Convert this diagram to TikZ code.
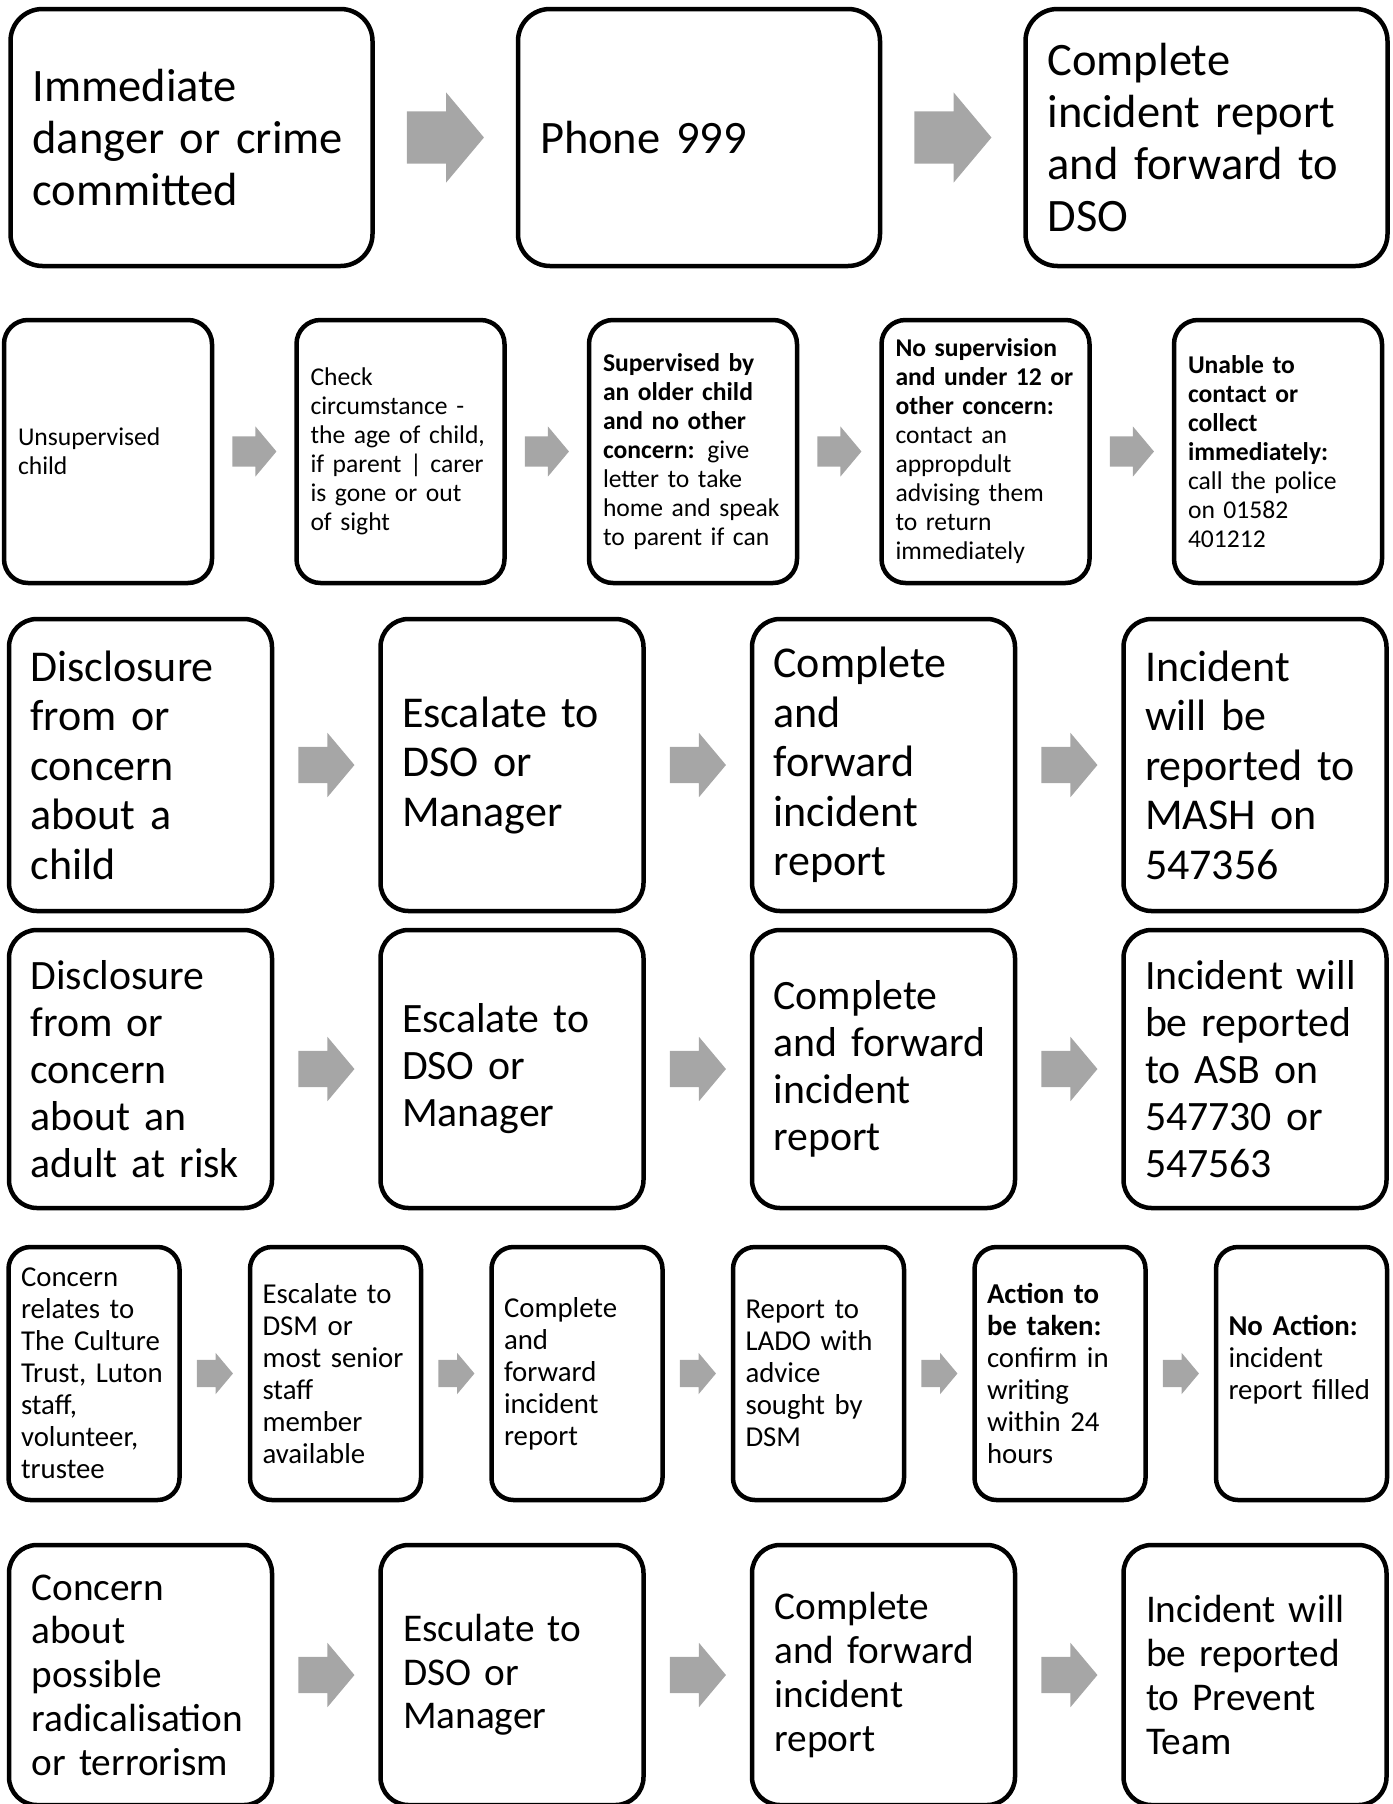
\documentclass[tikz,border=0pt]{standalone}
\usepackage{fontspec}
\setmainfont{Carlito}
\usepackage{tikz}
\usetikzlibrary{positioning,shapes.arrows}
\definecolor{arrowgray}{RGB}{166,166,166}

\begin{document}
\begin{tikzpicture}[
  x=1pt, y=-1pt,
  box/.style={rectangle, draw, line width=4.5pt, rounded corners=28pt, align=left, inner sep=0pt},
  rowA/.style={box, rounded corners=32pt, minimum width=362pt, minimum height=257pt, text width=318pt, font=\fontsize{46.5}{52}\selectfont},
  rowB/.style={box, rounded corners=24pt, minimum width=208pt, minimum height=263pt, text width=180pt, font=\fontsize{25.6}{29}\selectfont},
  rowC/.style={box, minimum width=263pt, minimum height=292pt, text width=220pt, font=\fontsize{44}{49.5}\selectfont},
  rowD/.style={box, minimum width=263pt, minimum height=278pt, text width=220pt, font=\fontsize{41.8}{47}\selectfont},
  rowE/.style={box, rounded corners=22pt, minimum width=171pt, minimum height=253pt, text width=146pt, font=\fontsize{28.8}{32}\selectfont},
  rowF/.style={box, minimum width=263pt, minimum height=260pt, text width=218pt, font=\fontsize{39.3}{43.7}\selectfont},
  blk/.style={single arrow, fill=arrowgray, inner sep=0pt, single arrow tip angle=100, anchor=tail},
  blkA/.style={blk, minimum height=77pt, text height=26pt, text depth=26pt, single arrow head extend=19pt, xshift=-38.5pt},
  blkB/.style={blk, minimum height=44pt, text height=15pt, text depth=15pt, single arrow head extend=10pt, xshift=-22pt},
  blkC/.style={blk, minimum height=56pt, text height=18pt, text depth=18pt, single arrow head extend=14pt, xshift=-28pt},
  blkE/.style={blk, minimum height=36pt, text height=13.5pt, text depth=13.5pt, single arrow head extend=7pt, xshift=-18pt}
]
\useasboundingbox (0,0) rectangle (1392,1804);

% immediate danger
\node[rowA] (im) at (191.5,137.5) {Immediate\\danger or crime\\committed};
\node[rowA, right=141pt of im] (ph) {Phone 999};
\node[rowA, right=141pt of ph] (cr) {Complete\\incident report\\and forward to\\DSO};

\path (im) -- node[blkA] (a1) {} (ph);
\path (ph) -- node[blkA] (a2) {} (cr);

% unsupervised child
\node[rowB] (un) at (108,451.5) {Unsupervised\\child};
\node[rowB, right=80pt of un] (ck) {Check\\circumstance -\\the age of child,\\if parent | carer\\is gone or out\\of sight};
\node[rowB, right=80pt of ck] (sv) {\textbf{Supervised by}\\\textbf{an older child}\\\textbf{and no other}\\\textbf{concern:} give\\letter to take\\home and speak\\to parent if can};
\node[rowB, right=80pt of sv] (ns) {\textbf{No supervision}\\\textbf{and under 12 or}\\\textbf{other concern:}\\contact an\\appropdult\\advising them\\to return\\immediately};
\node[rowB, right=80pt of ns] (uc) {\textbf{Unable to}\\\textbf{contact or}\\\textbf{collect}\\\textbf{immediately:}\\call the police\\on 01582\\401212};

\path (un) -- node[blkB] (b1) {} (ck);
\path (ck) -- node[blkB] (b2) {} (sv);
\path (sv) -- node[blkB] (b3) {} (ns);
\path (ns) -- node[blkB] (b4) {} (uc);

% disclosure, child
\node[rowC] (dc) at (140.5,765) {Disclosure\\from or\\concern\\about a\\child};
\node[rowC, right=104pt of dc] (ec) {Escalate to\\DSO or\\Manager};
\node[rowC, right=104pt of ec] (cc) {Complete\\and\\forward\\incident\\report};
\node[rowC, right=104pt of cc] (mash) {Incident\\will be\\reported to\\MASH on\\547356};

\path (dc) -- node[blkC] (c1) {} (ec);
\path (ec) -- node[blkC] (c2) {} (cc);
\path (cc) -- node[blkC] (c3) {} (mash);

% disclosure, adult
\node[rowD] (da) at (140.5,1069) {Disclosure\\from or\\concern\\about an\\adult at risk};
\node[rowD, right=104pt of da] (ea) {Escalate to\\DSO or\\Manager};
\node[rowD, right=104pt of ea] (ca) {Complete\\and forward\\incident\\report};
\node[rowD, right=104pt of ca] (asb) {Incident will\\be reported\\to ASB on\\547730 or\\547563};

\path (da) -- node[blkC] (d1) {} (ea);
\path (ea) -- node[blkC] (d2) {} (ca);
\path (ca) -- node[blkC] (d3) {} (asb);

% staff concern
\node[rowE] (ct) at (94,1373.5) {Concern\\relates to\\The Culture\\Trust, Luton\\staff,\\volunteer,\\trustee};
\node[rowE, right=66pt of ct] (es) {Escalate to\\DSM or\\most senior\\staff\\member\\available};
\node[rowE, right=66pt of es] (cs) {Complete\\and\\forward\\incident\\report};
\node[rowE, right=66pt of cs] (lado) {Report to\\LADO with\\advice\\sought by\\DSM};
\node[rowE, right=66pt of lado] (act) {\textbf{Action to}\\\textbf{be taken:}\\confirm in\\writing\\within 24\\hours};
\node[rowE, right=66pt of act] (noact) {\textbf{No Action:}\\incident\\report filled\\\mbox{}};

\path (ct) -- node[blkE] (e1) {} (es);
\path (es) -- node[blkE] (e2) {} (cs);
\path (cs) -- node[blkE] (e3) {} (lado);
\path (lado) -- node[blkE] (e4) {} (act);
\path (act) -- node[blkE] (e5) {} (noact);

% radicalisation
\node[rowF] (rad) at (140.5,1675) {Concern\\about\\possible\\radicalisation\\or terrorism};
\node[rowF, right=104pt of rad] (eu) {Esculate to\\DSO or\\Manager};
\node[rowF, right=104pt of eu] (cu) {Complete\\and forward\\incident\\report};
\node[rowF, right=104pt of cu] (prev) {Incident will\\be reported\\to Prevent\\Team};

\path (rad) -- node[blkC] (f1) {} (eu);
\path (eu) -- node[blkC] (f2) {} (cu);
\path (cu) -- node[blkC] (f3) {} (prev);

\end{tikzpicture}
\end{document}
